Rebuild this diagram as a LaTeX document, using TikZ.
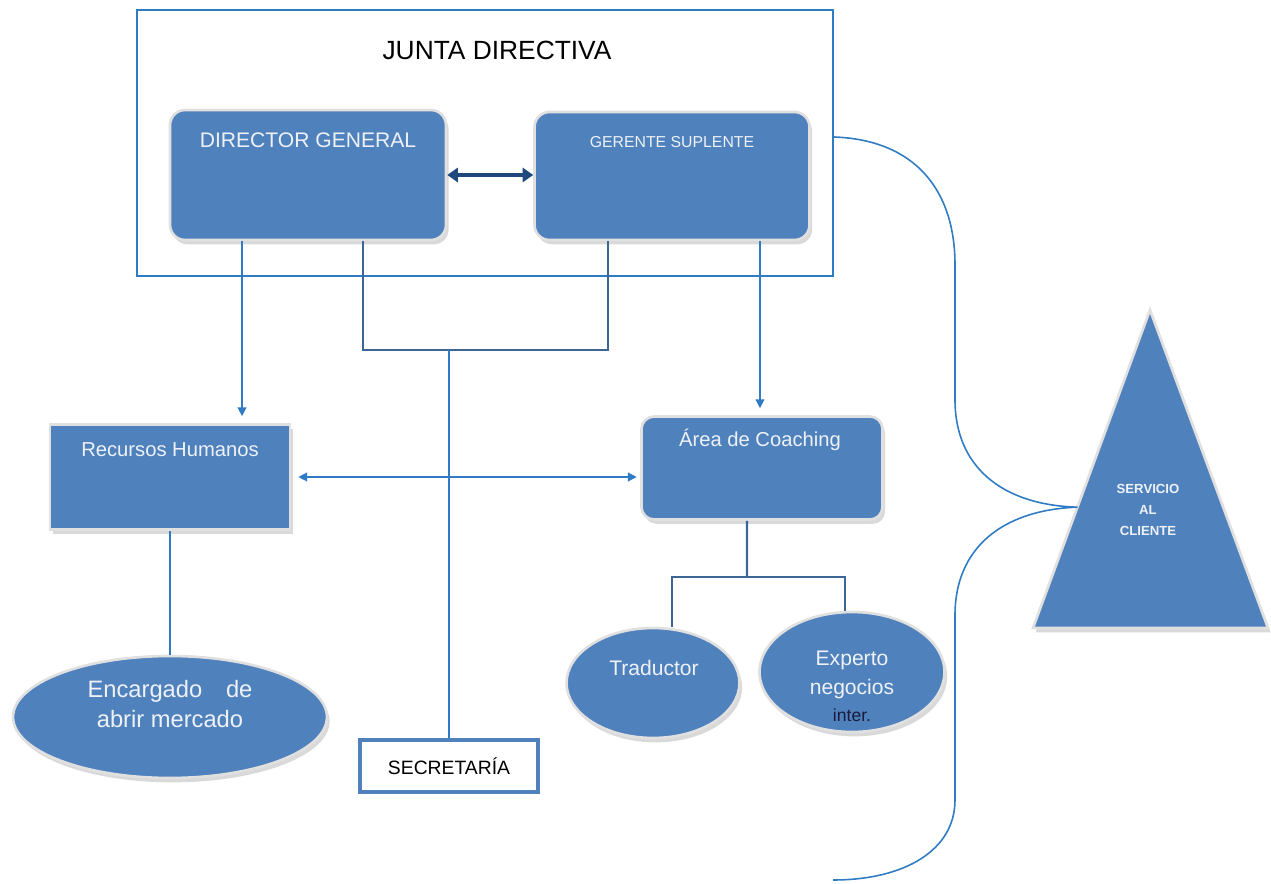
\documentclass[tikz,border=0pt]{standalone}
\usepackage{fontspec}
\setmainfont{Liberation Sans}
\usetikzlibrary{shapes.geometric, arrows.meta, shadows, calc}

\definecolor{boxblue}{HTML}{4F81BD}
\definecolor{lineblue}{HTML}{2F7BC4}
\definecolor{barblue}{HTML}{3D6696}
\definecolor{navy}{HTML}{1F497D}
\definecolor{paletext}{HTML}{EEF2F8}
\definecolor{darktext}{HTML}{1A1A3A}

\begin{document}
\begin{tikzpicture}[x=0.02cm, y=-0.02cm,
    unit/.style={fill=boxblue, draw=black!12, line width=1.5pt,
        drop shadow={shadow xshift=1.5pt, shadow yshift=-2.5pt, opacity=0.3}},
    roundbox/.style={unit, rounded corners=0.3cm},
    oval/.style={unit, ellipse},
    boxtext/.style={text=paletext, inner sep=0pt},
    link/.style={lineblue, line width=0.8pt},
    arrowlink/.style={link, -{Triangle[width=5pt,length=5pt]}, shorten >=4pt},
    bar/.style={barblue, line width=1.4pt},
]
    \useasboundingbox (0,0) rectangle (1271,884);

    % Junta directiva frame
    \node[draw=lineblue, line width=1.4pt, minimum width=13.92cm, minimum height=5.32cm] (junta) at (485,143) {};
    \node[font=\fontsize{15}{18}\selectfont] (jtitle) at (497,50) {JUNTA DIRECTIVA};

    \node[roundbox, minimum width=5.52cm, minimum height=2.6cm] (dg) at (308,175) {};
    \node[boxtext, font=\fontsize{12}{14}\selectfont] (dgtext) at (308,140) {DIRECTOR GENERAL};

    \node[roundbox, minimum width=5.5cm, minimum height=2.56cm] (gs) at (672,176) {};
    \node[boxtext, font=\fontsize{9}{11}\selectfont] (gstext) at (672,142) {GERENTE SUPLENTE};

    % Second level
    \node[unit, minimum width=4.8cm, minimum height=2.1cm] (rh) at (170,477) {};
    \node[boxtext, font=\fontsize{11.5}{14}\selectfont] (rhtext) at (170,450) {Recursos Humanos};

    \node[roundbox, rounded corners=0.25cm, minimum width=4.82cm, minimum height=2.06cm] (adc) at (762,468) {};
    \node[boxtext, font=\fontsize{11.5}{14}\selectfont] (adctext) at (760,440) {Área de Coaching};

    % Ovals
    \node[oval, minimum width=6.28cm, minimum height=2.44cm] (enc) at (170,717) {};
    \node[boxtext, align=center, font=\fontsize{13.5}{17}\selectfont] (enctext) at (170,704) {Encargado\quad de\\abrir mercado};

    \node[oval, minimum width=3.46cm, minimum height=2.2cm] (trad) at (653,683) {};
    \node[boxtext, font=\fontsize{12}{14}\selectfont] (tradtext) at (654,668) {Traductor};

    \node[oval, minimum width=3.7cm, minimum height=2.4cm] (exp) at (852,672) {};
    \node[boxtext, align=center, font=\fontsize{12}{17}\selectfont] (exptext) at (852,686)
        {Experto\\negocios\\[-2pt]{\color{darktext}\fontsize{10}{12}\selectfont inter.}};

    \node[draw=boxblue, line width=2pt, fill=white, minimum width=3.56cm, minimum height=1.04cm,
        font=\fontsize{11}{13}\selectfont] (sec) at (449,766) {SECRETARÍA};

    % Servicio al cliente
    \coordinate (apex) at (1150,310);
    \coordinate (baseR) at (1268,628);
    \coordinate (baseL) at (1033,628);
    \path[unit] (apex) -- (baseR) -- (baseL) -- cycle;
    \node[boxtext, align=center, font=\fontsize{7.5}{12}\selectfont\bfseries] (svc) at (1148,510) {SERVICIO\\AL\\CLIENTE};

    % Brace
    \coordinate (tip) at ($(apex)!0.62!(baseL)$);
    \coordinate (braceend) at (833,880);
    \draw[link, line width=0.9pt] (junta.east |- 0,137) .. controls (915,140) and (955,190) .. (955,265)
        -- (955,400) .. controls (955,465) and (1000,505) .. (tip)
        .. controls (1000,510) and (955,550) .. (955,615)
        -- (955,800) .. controls (955,850) and (905,880) .. (braceend);

    % Connectors
    \draw[navy, line width=2.2pt, {Triangle[width=8pt,length=6pt]}-{Triangle[width=8pt,length=6pt]}] (dg.east) -- (dg.east -| gs.west);
    \draw[arrowlink] ([xshift=-1.32cm]dg.south) -- ([xshift=-1.32cm]dg.south |- rh.north);
    \draw[arrowlink] ([xshift=1.76cm]gs.south) -- ([xshift=1.76cm]gs.south |- adc.north);

    \draw[bar] ([xshift=1.1cm]dg.south) |- (sec.north |- 0,350) -| ([xshift=-1.28cm]gs.south);
    \draw[link] (sec.north |- 0,350) -- (sec.north);

    \draw[link, {Triangle[width=5pt,length=5pt]}-{Triangle[width=5pt,length=5pt]}]
        ([xshift=4pt]rh.east) -- ([xshift=-2pt]rh.east -| adc.west);
    \draw[link] (rh.south) -- (enc.north);

    % Coaching fork
    \coordinate (fork) at (747,577);
    \coordinate (forkL) at (672,577);
    \coordinate (forkR) at (845,577);
    \draw[bar] ([xshift=-0.3cm]adc.south) -- (fork);
    \draw[barblue, line width=0.9pt] (forkL |- trad.north) -- (forkL) -- (forkR) -- (forkR |- exp.north);
\end{tikzpicture}
\end{document}
